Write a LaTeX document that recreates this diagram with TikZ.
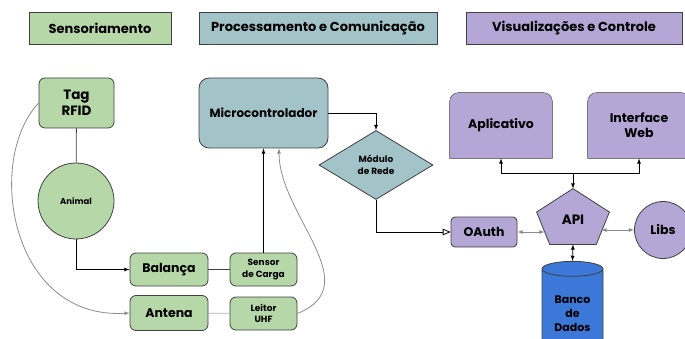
\documentclass[tikz,border=0pt]{standalone}
\usepackage{fontspec}
\setmainfont{Poppins}
\usetikzlibrary{calc,shapes,arrows,positioning,backgrounds}
\definecolor{verde}{HTML}{B6D7A8}
\definecolor{ciano}{HTML}{A2C4C9}
\definecolor{roxo}{HTML}{B4A7D6}
\definecolor{azul}{HTML}{3C78D8}
\definecolor{borda}{HTML}{404040}
\definecolor{cinza}{HTML}{8C8C8C}
\newcommand{\fs}[2]{\fontsize{#1}{#2}\selectfont}

\begin{document}
\begin{tikzpicture}[x=1pt,y=-1pt,line width=0.8pt,
    titulo/.style={draw=borda, minimum height=32pt, font=\bfseries\fs{13}{15}},
    caixa/.style={draw=borda, rounded corners=6pt, align=center, font=\bfseries\fs{12.5}{15}},
    seta/.style={-latex},
    leve/.style={draw=cinza, -latex}]
    \useasboundingbox (0,0) rectangle (685,339);

    % cabecalhos
    \node[titulo, fill=verde, minimum width=142pt] (sens) at (100,28) {Sensoriamento};
    \node[titulo, fill=ciano, minimum width=238pt] (proc) at (318,28) {Processamento e Comunicação};
    \node[titulo, fill=roxo, minimum width=216pt] (vis) at (574,28) {Visualizações e Controle};

    % sensoriamento
    \node[caixa, fill=verde, minimum width=75pt, minimum height=50pt, font=\bfseries\fs{13.5}{16}] (tag) at (76.5,103) {Tag\\RFID};
    \node[circle, draw=borda, fill=verde, minimum size=76pt, font=\bfseries\fs{8.5}{10}] (animal) at (76,201) {Animal};
    \node[caixa, fill=verde, minimum width=78pt, minimum height=33pt] (bal) at (169,269.5) {Balança};
    \node[caixa, fill=verde, minimum width=78pt, minimum height=35pt] (ant) at (169,313) {Antena};

    % processamento
    \node[caixa, fill=verde, minimum width=67pt, minimum height=33pt, font=\bfseries\fs{9}{11.5}] (carga) at (263.5,269.5) {Sensor\\de Carga};
    \node[caixa, fill=verde, minimum width=67pt, minimum height=33pt, font=\bfseries\fs{9}{11.5}] (leitor) at (263.5,313.5) {Leitor\\UHF};
    \node[caixa, fill=ciano, rounded corners=10pt, minimum width=129pt, minimum height=70pt, font=\bfseries\fs{12}{14}] (micro) at (263.5,113) {Microcontrolador};
    \node[diamond, draw=borda, fill=ciano, minimum width=114pt, minimum height=68pt, align=center, font=\bfseries\fs{9}{11.5}] (rede) at (376,165) {Módulo\\de Rede};

    % visualizacao
    \node[caixa, fill=roxo, rounded corners=4pt, minimum width=66pt, minimum height=30pt] (oauth) at (484,232) {OAuth};
    \node[minimum width=72pt, minimum height=55pt, inner sep=0pt] (api) at (573,216.5) {};
    \node[circle, draw=borda, fill=roxo, minimum size=57pt, font=\bfseries\fs{12.5}{15}] (libs) at (663,230) {Libs};
    \node[minimum width=102pt, minimum height=65pt, align=center, font=\bfseries\fs{12.5}{15}] (apl) at (501,125.5) {Aplicativo};
    \node[minimum width=102pt, minimum height=65pt, align=center, font=\bfseries\fs{12.5}{15}] (web) at (639,125.5) {Interface\\Web};
    \node[cylinder, shape border rotate=90, aspect=0.35, draw=borda, fill=azul, minimum width=61pt, minimum height=85pt, align=center, font=\bfseries\fs{11}{14}] (db) at (572.5,309.5) {\rule{0pt}{17pt}Banco\\de\\Dados};

    \begin{scope}[on background layer]
        \draw[draw=borda, fill=roxo] (apl.south west) {[rounded corners=9pt] -- (apl.north west) -- (apl.north east)} -- (apl.south east) -- cycle;
        \draw[draw=borda, fill=roxo] (web.south west) {[rounded corners=9pt] -- (web.north west) -- (web.north east)} -- (web.south east) -- cycle;
    \end{scope}
    \draw[draw=borda, fill=roxo] (api.north) -- ($(api.north east)!0.42!(api.south east)$) -- ($(api.south west)!0.82!(api.south east)$)
        -- ($(api.south west)!0.18!(api.south east)$) -- ($(api.north west)!0.42!(api.south west)$) -- cycle;
    \node[font=\bfseries\fs{13.5}{16}] at ([yshift=-3pt]api.center) {API};

    % ligacoes
    \draw[draw=borda] (tag) -- (animal);
    \draw[seta] (animal.south) |- (bal.west);
    \draw[draw=borda] (bal) -- (carga);
    \draw[draw=cinza!70] (ant) -- (leitor);
    \draw[seta] (carga.north) -- (carga |- micro.south);
    \draw[leve] (leitor.east) .. controls (368,285) and (279,215) .. ([xshift=15.5pt]micro.south);
    \draw[leve] (tag.west) .. controls (-15,160) and (10,320) .. (ant.west);
    \draw[seta] (micro.east) -| (rede.north);
    \draw[-open triangle 45] (rede.south) |- (oauth.west);

    \coordinate (junta) at ([yshift=15pt]api.north);
    \coordinate (apiesq) at ($(api.west |- oauth.east)+(8,0)$);
    \coordinate (apidir) at ($(api.east |- libs.west)+(-8,0)$);
    \draw[latex-latex] (apl.south) |- (junta) -| (web.south);
    \draw[seta] (junta) -- (api.north);
    \draw[draw=cinza, latex-latex] (oauth.east) -- (apiesq);
    \draw[draw=cinza, latex-latex] (apidir) -- (libs.west);
    \draw[latex-latex] (api.south) -- (db.top);
\end{tikzpicture}
\end{document}
